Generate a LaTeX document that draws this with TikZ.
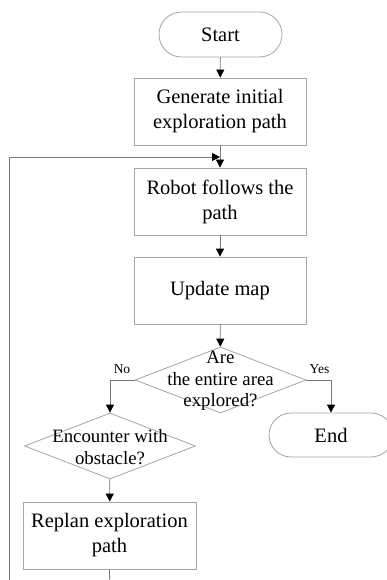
\documentclass[tikz,border=0pt]{standalone}
\usepackage{fontspec}
\setmainfont{Liberation Serif}
\usetikzlibrary{shapes.misc,shapes.geometric,arrows.meta}
\definecolor{boxgray}{RGB}{165,165,165}
\definecolor{linegray}{RGB}{120,120,120}
\begin{document}
\begin{tikzpicture}[x=1pt,y=-1pt,
  base/.style={draw=boxgray,line width=0.8pt,fill=white,inner sep=0pt,align=center},
  term/.style={base,rounded rectangle,minimum width=123pt,minimum height=45pt,font=\fontsize{20.5}{25}\selectfont},
  procbox/.style={base,rectangle,minimum width=172pt,minimum height=67pt,font=\fontsize{20.5}{25}\selectfont},
  dia/.style={base,diamond,minimum width=171pt,minimum height=66pt},
  diatext/.style={inner sep=0pt,align=center,font=\fontsize{18.8}{21.5}\selectfont},
  lbl/.style={inner sep=0pt,font=\fontsize{13.5}{15}\selectfont},
  conn/.style={draw=linegray,line width=0.8pt,-{Triangle[length=8pt,width=8pt,color=black]}},
  plain/.style={draw=linegray,line width=0.8pt}]
\useasboundingbox (0,0) rectangle (387,580);
\clip (0,0) rectangle (387,580);
\node[term] (start) at (220.5,34.5) {Start};
\node[procbox] (gen) at (220,111.5) {Generate initial\\exploration path};
\node[procbox] (robot) at (220,201.5) {Robot follows the\\path};
\node[procbox] (update) at (220,290.5) {Update map};
\node[dia] (d1) at (220.5,380) {};
\node[diatext] (d1t) at (220.5,381) {Are\\the entire area\\explored?};
\node[dia] (d2) at (110,446) {};
\node[diatext] (d2t) at (110,447) {Encounter with\\obstacle?};
\node[procbox,minimum width=173pt] (replan) at (109.5,535.5) {Replan exploration\\path};
\node[term,minimum width=124pt,minimum height=44pt] (end) at (331,435) {End};
\node[lbl] (no) at (122,369) {No};
\node[lbl] (yes) at (319.5,369) {Yes};
\coordinate (loopin) at (220,157);
\coordinate (bottom) at (110,600);
\coordinate (leftbot) at (9,600);
\draw[conn] (start) -- (gen);
\draw[conn] (gen) -- (robot);
\draw[conn] (robot) -- (update);
\draw[conn] (update) -- (d1);
\draw[conn] (d1.west) -| (d2.north);
\draw[conn] (d1.east) -| (end.north);
\draw[conn] (d2) -- (replan);
\draw[plain] (replan.south) -- (bottom) -- (leftbot);
\draw[conn] (leftbot) |- (loopin);
\end{tikzpicture}
\end{document}
